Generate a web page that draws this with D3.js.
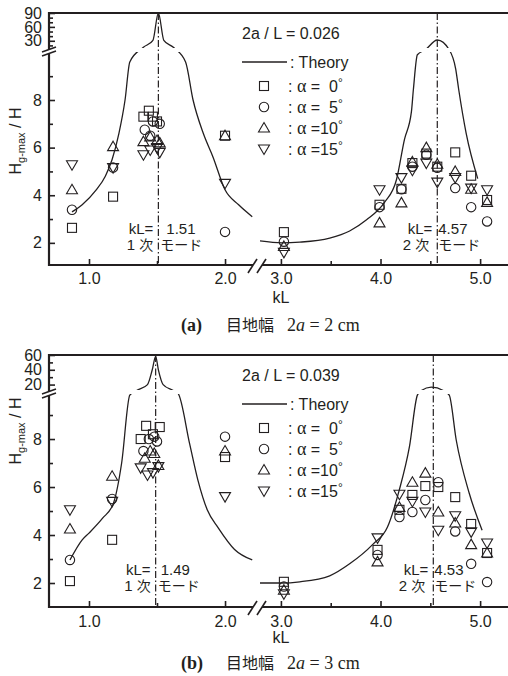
<!DOCTYPE html>
<html>
<head>
<meta charset="utf-8">
<script src="https://cdn.jsdelivr.net/npm/d3@7/dist/d3.min.js"></script>
<style>
body{margin:0;background:#fff;}
svg{font-family:"Liberation Sans",Arial,sans-serif;}
svg text{fill:#231f20;white-space:pre;}
</style>
</head>
<body>
<div class="chart"></div>
<script>
// legend labels
const alphas = ['0°', '5°', '10°', '15°'];
const symbols = ['square', 'circle', 'up', 'down'];

// panel (a) 2a/L = 0.026 : [kL, Hg-max/H]
const a_sq = [[0.875,2.63],[1.177,3.94],[1.40,7.3],[1.44,7.55],[1.47,7.3],[1.50,7.1],[2.0,6.5],[3.03,2.45],[3.99,3.6],[4.21,4.27],[4.32,5.35],[4.46,5.75],[4.57,5.2],[4.75,5.8],[4.91,4.82],[5.07,3.8]];
const a_ci = [[0.875,3.39],[1.177,5.16],[1.41,6.75],[1.45,6.5],[1.47,7.1],[1.52,7.0],[2.0,2.46],[3.03,2.05],[3.99,3.5],[4.21,4.25],[4.32,5.2],[4.46,5.7],[4.57,5.15],[4.75,4.3],[4.91,3.5],[5.07,2.9]];
const a_tu = [[0.875,4.23],[1.177,6.04],[1.40,6.25],[1.45,6.45],[1.50,6.3],[1.52,6.2],[2.0,6.5],[3.03,1.85],[3.99,2.84],[4.21,3.68],[4.32,5.4],[4.46,6.0],[4.57,5.3],[4.75,5.0],[4.91,4.25],[5.07,3.7]];
const a_td = [[0.875,5.28],[1.177,5.16],[1.40,5.7],[1.45,5.9],[1.50,6.0],[1.52,5.8],[2.0,4.5],[3.03,1.6],[3.99,4.23],[4.21,4.74],[4.32,5.05],[4.46,5.35],[4.57,4.55],[4.75,4.74],[4.91,4.3],[5.07,4.23]];
const a_theory1 = [[0.875,3.3],[0.95,3.6],[1.05,4.2],[1.12,4.8],[1.17,5.5],[1.22,6.6],[1.265,8.0],[1.30,9.6],[1.40,16],[1.47,31],[1.51,90],[1.55,31],[1.62,16],[1.71,9.6],[1.765,8.0],[1.84,6.6],[1.912,5.6],[2.0,4.23],[2.1,3.6],[2.2,3.1]];
const a_theory2 = [[2.79,2.08],[3.01,2.0],[3.19,2.03],[3.49,2.2],[3.69,2.5],[3.86,2.97],[4.04,3.7],[4.16,4.65],[4.24,6.34],[4.31,7.5],[4.33,8.44],[4.37,9.9],[4.45,10.6],[4.57,31.7],[4.69,10.6],[4.755,9.3],[4.785,8.44],[4.86,6.6],[4.976,4.7]];

// panel (b) 2a/L = 0.039
const b_sq = [[0.86,2.08],[1.17,3.8],[1.38,8.0],[1.42,8.55],[1.47,8.2],[1.52,8.5],[2.0,7.25],[3.03,2.05],[3.97,3.38],[4.19,5.05],[4.32,5.67],[4.45,6.04],[4.58,6.0],[4.75,5.58],[4.91,4.46],[5.07,3.25]];
const b_ci = [[0.86,2.96],[1.17,5.5],[1.40,7.5],[1.44,8.0],[1.48,8.1],[1.50,7.9],[2.0,8.1],[3.03,1.85],[3.97,3.17],[4.19,4.75],[4.32,4.96],[4.45,5.46],[4.58,6.2],[4.75,4.15],[4.91,2.8],[5.07,2.04]];
const b_tu = [[0.86,4.25],[1.17,6.45],[1.41,7.2],[1.45,7.5],[1.48,7.4],[1.51,6.9],[2.0,7.5],[3.03,1.7],[3.97,2.88],[4.19,5.15],[4.32,6.2],[4.45,6.58],[4.58,4.96],[4.75,4.5],[4.91,3.6],[5.07,3.25]];
const b_td = [[0.86,5.05],[1.17,5.4],[1.38,6.8],[1.43,6.5],[1.47,6.6],[1.51,6.85],[2.0,5.6],[3.03,1.55],[3.97,3.88],[4.19,5.7],[4.32,5.4],[4.45,4.96],[4.58,4.2],[4.75,4.8],[4.91,4.13],[5.07,3.67]];
const b_theory1 = [[0.86,2.96],[0.95,3.8],[1.0,4.08],[1.10,4.7],[1.18,5.33],[1.24,7.0],[1.30,9.83],[1.35,12],[1.43,20],[1.465,40],[1.49,58],[1.51,40],[1.545,20],[1.62,12],[1.655,9.9],[1.74,7.8],[1.80,6.3],[1.87,5.04],[1.95,4.3],[2.07,3.4],[2.2,2.96]];
const b_theory2 = [[2.79,2.0],[3.01,2.0],[3.19,2.05],[3.49,2.3],[3.69,2.8],[3.92,3.6],[4.07,4.33],[4.19,5.9],[4.29,7.67],[4.37,9.83],[4.41,12],[4.51,16.6],[4.63,12],[4.69,9.83],[4.76,7.96],[4.89,5.75],[5.02,4.2]];

const width = 508, height = 676;
const svg = d3.select('.chart').append('svg')
	.attr('width', width)
	.attr('height', height);

// broken x axis: two linear pieces
const xLeft = d3.scaleLinear().domain([0.706, 2.235]).range([49, 257]);
const xRight = d3.scaleLinear().domain([2.78, 5.30]).range([259, 510]);
const xs = k => k < 2.5 ? xLeft(k) : xRight(k);

const sans = '"Liberation Sans",Arial,sans-serif';
const serif = '"Liberation Serif","Times New Roman",serif';
const cjk = '"Noto Sans CJK JP",sans-serif';

function marker(g, type, x, y) {
	if (type === 'square') {
		g.append('rect').attr('x', x-4.5).attr('y', y-4.5).attr('width', 9).attr('height', 9);
	} else if (type === 'circle') {
		g.append('circle').attr('cx', x).attr('cy', y).attr('r', 4.7);
	} else {
		const s = type === 'up' ? 1 : -1;
		g.append('path').attr('d', `M${x},${y-5.5*s} L${x+5.5},${y+4*s} L${x-5.5},${y+4*s} Z`);
	}
}

const panels = [
	{id:'a', top:13, axisY:265, breakY:50, low:[1.07,10.1], high:[10.1,90], highMajor:[30,60,90], highMinor:[20,40,50,70,80],
	 ratio:'0.026', res:[1.51,4.57], theory:[a_theory1,a_theory2], series:[a_sq,a_ci,a_tu,a_td], width2a:'2',
	 labY:141, capY:331, kLlabel:303, tickPad:8, annY:234},
	{id:'b', top:355, axisY:607, breakY:392, low:[1.0,9.96], high:[9.96,60], highMajor:[20,40,60], highMinor:[30,50],
	 ratio:'0.039', res:[1.49,4.53], theory:[b_theory1,b_theory2], series:[b_sq,b_ci,b_tu,b_td], width2a:'3',
	 labY:431, capY:669, kLlabel:643, tickPad:9, annY:575}
];

panels.forEach(p => {
	const g = svg.append('g');
	const yLow = d3.scaleLinear().domain(p.low).range([p.axisY, p.breakY]);
	const yHigh = d3.scaleLinear().domain(p.high).range([p.breakY, p.top]);
	const ys = v => v <= p.low[1] ? yLow(v) : yHigh(v);

	// clip that leaves a small gap at the y break
	const clip = svg.append('clipPath').attr('id', 'clip-' + p.id);
	clip.append('rect').attr('x', 0).attr('y', p.top - 1).attr('width', width).attr('height', p.breakY - 2 - p.top + 1);
	clip.append('rect').attr('x', 0).attr('y', p.breakY + 2).attr('width', width).attr('height', p.axisY - p.breakY - 2);

	// resonance lines
	p.res.forEach(k => {
		g.append('line')
			.attr('x1', xs(k)).attr('x2', xs(k))
			.attr('y1', p.top).attr('y2', p.axisY)
			.style('stroke', '#231f20').style('stroke-width', 1.2)
			.style('stroke-dasharray', '7,2.5,1.5,2.5');
	});

	// theory curves
	const line = d3.line().x(d => xs(d[0])).y(d => ys(d[1])).curve(d3.curveMonotoneX);
	p.theory.forEach(t => {
		g.append('path')
			.attr('d', line(t))
			.attr('clip-path', `url(#clip-${p.id})`)
			.style('fill', 'none').style('stroke', '#231f20').style('stroke-width', 1.3);
	});

	// markers
	const mg = g.append('g').style('fill', 'none').style('stroke', '#231f20').style('stroke-width', 1.1);
	p.series.forEach((s, i) => {
		s.forEach(d => marker(mg, symbols[i], xs(d[0]), ys(d[1])));
	});

	// axes (ticks only, axis lines drawn with the breaks)
	const styleAxis = a => {
		a.select('.domain').remove();
		a.attr('font-size', 16).attr('font-family', sans);
		a.selectAll('line').style('stroke', '#231f20').style('stroke-width', 1.6);
		a.selectAll('text').style('fill', '#231f20');
	};
	const fmt = d3.format('.1f');
	g.append('g').attr('transform', `translate(0,${p.axisY})`)
		.call(d3.axisBottom(xLeft).tickValues([1.0, 2.0]).tickSizeInner(-6).tickSizeOuter(0).tickPadding(p.tickPad).tickFormat(fmt)).call(styleAxis);
	g.append('g').attr('transform', `translate(0,${p.axisY})`)
		.call(d3.axisBottom(xLeft).tickValues([1.5]).tickSize(-4).tickFormat('')).call(styleAxis);
	g.append('g').attr('transform', `translate(0,${p.axisY})`)
		.call(d3.axisBottom(xRight).tickValues([3.0, 4.0, 5.0]).tickSizeInner(-6).tickSizeOuter(0).tickPadding(p.tickPad).tickFormat(fmt)).call(styleAxis);
	g.append('g').attr('transform', `translate(0,${p.axisY})`)
		.call(d3.axisBottom(xRight).tickValues([3.5, 4.5]).tickSize(-4).tickFormat('')).call(styleAxis);

	g.append('g').attr('transform', 'translate(49,0)')
		.call(d3.axisLeft(yLow).tickValues([2, 4, 6, 8]).tickSizeInner(-6).tickSizeOuter(0).tickPadding(7).tickFormat(d3.format('d'))).call(styleAxis);
	g.append('g').attr('transform', 'translate(49,0)')
		.call(d3.axisLeft(yLow).tickValues([3, 5, 7, 9]).tickSize(-4).tickFormat('')).call(styleAxis);
	g.append('g').attr('transform', 'translate(49,0)')
		.call(d3.axisLeft(yHigh).tickValues(p.highMajor).tickSizeInner(-6).tickSizeOuter(0).tickPadding(7).tickFormat(d3.format('d'))).call(styleAxis);
	g.append('g').attr('transform', 'translate(49,0)')
		.call(d3.axisLeft(yHigh).tickValues(p.highMinor).tickSize(-4).tickFormat('')).call(styleAxis);

	// frame lines with breaks
	const ax = g.append('g').style('stroke', '#231f20').style('stroke-width', 2.2).style('fill', 'none');
	ax.append('line').attr('x1', 48).attr('x2', width).attr('y1', p.top).attr('y2', p.top);
	ax.append('line').attr('x1', 49).attr('x2', 49).attr('y1', p.top - 1).attr('y2', p.breakY - 0.5);
	ax.append('line').attr('x1', 49).attr('x2', 49).attr('y1', p.breakY + 3.5).attr('y2', p.axisY + 1);
	ax.append('line').attr('x1', 48).attr('x2', 253).attr('y1', p.axisY).attr('y2', p.axisY);
	ax.append('line').attr('x1', 262).attr('x2', width).attr('y1', p.axisY).attr('y2', p.axisY);
	const br = g.append('g').style('stroke', '#231f20').style('stroke-width', 1.6);
	br.append('line').attr('x1', 42).attr('y1', p.breakY + 2).attr('x2', 56).attr('y2', p.breakY - 3);
	br.append('line').attr('x1', 42).attr('y1', p.breakY + 6).attr('x2', 56).attr('y2', p.breakY + 1);
	br.append('line').attr('x1', 248).attr('y1', p.axisY + 8).attr('x2', 257).attr('y2', p.axisY - 6);
	br.append('line').attr('x1', 257).attr('y1', p.axisY + 8).attr('x2', 266).attr('y2', p.axisY - 6);

	// axis titles
	g.append('text').attr('x', xRight(3.0)).attr('y', p.kLlabel)
		.attr('text-anchor', 'middle').style('font-size', '16px').text('kL');
	const yl = g.append('text')
		.attr('transform', `translate(21,${p.labY}) rotate(-90)`)
		.attr('text-anchor', 'middle').style('font-size', '16px');
	yl.append('tspan').text('H');
	yl.append('tspan').style('font-size', '11px').attr('dy', 4).text('g-max');
	yl.append('tspan').attr('dy', -4).text(' / H');

	// legend
	const lx = 242;
	g.append('text').attr('x', lx).attr('y', p.top + 26).style('font-size', '16px')
		.text(`2a / L = ${p.ratio}`);
	g.append('line').attr('x1', lx).attr('x2', lx + 45).attr('y1', p.top + 49).attr('y2', p.top + 49)
		.style('stroke', '#231f20').style('stroke-width', 1.3);
	g.append('text').attr('x', lx + 48).attr('y', p.top + 55).style('font-size', '16px').text(': Theory');
	const lg = g.append('g').style('fill', 'none').style('stroke', '#231f20').style('stroke-width', 1.1);
	alphas.forEach((a, i) => {
		const yy = p.top + 73 + i * 21;
		marker(lg, symbols[i], 264, yy);
		const t = g.append('text').attr('x', 288).attr('y', yy + 6).style('font-size', '16px');
		t.append('tspan').text(': ');
		t.append('tspan').style('font-family', serif).style('font-size', '18px').text('α');
		t.append('tspan').text(a.length < 3 ? ' =  ' + a.slice(0, -1) : ' =' + a.slice(0, -1));
		t.append('tspan').style('font-size', '12px').attr('dy', -5).text('°');
	});

	// resonance annotations
	const ann = [
		{x: xs(p.res[0]), t2: p.res[0].toFixed(2), n: '1', o2: p.id === 'a' ? 8 : 5, o3: -5, o4: 0},
		{x: xs(p.res[1]), t2: p.res[1].toFixed(2), n: '2', o2: 1, o3: -8, o4: -1}
	];
	ann.forEach(a => {
		g.append('text').attr('x', a.x - 5).attr('y', p.annY).attr('text-anchor', 'end').style('font-size', '15px').text('kL=');
		g.append('text').attr('x', a.x + a.o2).attr('y', p.annY).style('font-size', '15px').text(a.t2);
		const t = g.append('text').attr('x', a.x + a.o3).attr('y', p.annY + 16).attr('text-anchor', 'end').style('font-size', '15px');
		t.append('tspan').text(a.n + ' ');
		t.append('tspan').style('font-family', cjk).style('font-size', '14px').text('次');
		g.append('text').attr('x', a.x + a.o4 + 2).attr('y', p.annY + 16).style('font-family', cjk).style('font-size', '14px').text('モード');
	});

	// caption
	const cap = g.append('text').attr('y', p.capY).style('font-size', '18px').style('font-family', serif);
	cap.append('tspan').attr('x', 181).style('font-weight', 'bold').text(`(${p.id})`);
	cap.append('tspan').attr('x', 226).style('font-family', cjk).style('font-size', '16px').text('目地幅');
	cap.append('tspan').attr('x', 287).text('2');
	cap.append('tspan').style('font-style', 'italic').text('a');
	cap.append('tspan').text(` = ${p.width2a} cm`);
});
</script>
</body>
</html>
